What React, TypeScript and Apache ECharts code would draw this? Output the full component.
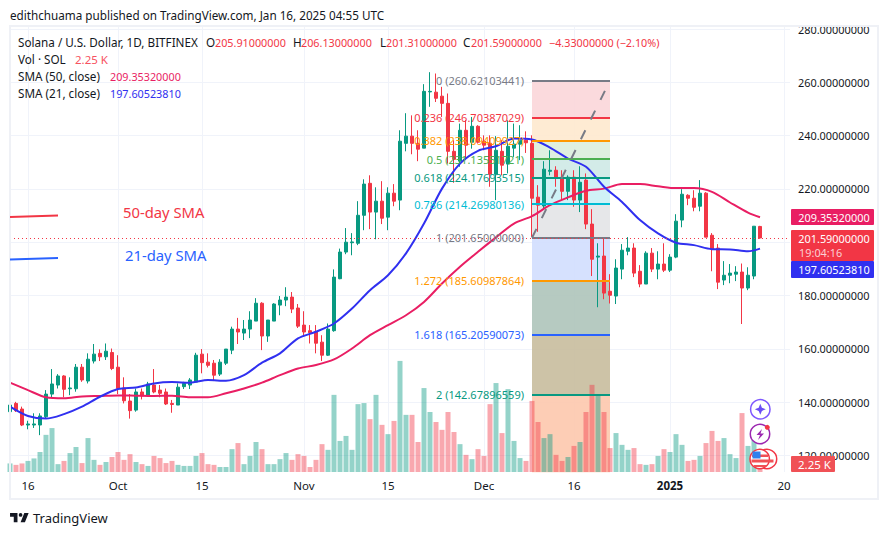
import React, { useEffect, useRef } from "react";
import * as echarts from "echarts";

const FONT = '"Noto Sans", sans-serif';
const UP = "#089981";
const DOWN = "#F23645";

const opens = [
  136.4,139.5,137.4,131.4,131.4,131.4,134.5,143.0,146.4,149.8,
  145.0,145.0,153.1,147.9,155.4,158.3,157.0,158.6,153.1,145.3,
  140.4,137.0,143.8,142.5,146.4,144.5,143.8,139.5,138.9,145.8,
  146.4,147.5,158.0,155.0,154.6,150.5,154.6,159.5,167.4,165.9,
  167.4,170.4,177.1,164.8,170.4,176.4,178.3,179.4,175.3,168.9,
  166.8,166.4,162.5,157.6,166.8,186.3,196.3,199.8,199.6,210.1,
  222.1,211.3,215.4,209.4,218.4,215.8,237.1,239.8,237.1,235.3,
  256.4,256.3,254.8,252.1,234.1,230.4,242.0,237.5,243.5,237.9,
  237.1,225.5,234.1,229.3,235.3,236.8,238.3,237.1,216.9,213.6,
  226.6,227.0,224.4,219.1,224.4,215.8,223.3,206.8,194.4,194.8,
  181.6,179.8,189.9,196.6,197.8,189.1,184.3,195.9,189.9,191.8,
  189.5,194.4,208.3,217.6,216.5,213.5,218.4,202.6,197.8,185.8,
  187.6,188.0,188.8,182.8,187.3,205.91,
];
const closes = [
  138.9,136.8,131.4,131.8,131.8,134.8,143.0,146.8,149.8,144.8,
  145.3,153.1,148.3,156.1,158.0,157.0,159.1,152.6,145.1,140.5,
  136.8,143.8,142.3,146.8,143.8,143.3,139.3,139.1,145.6,147.0,
  148.3,157.6,154.8,153.8,150.1,155.0,159.9,167.4,166.3,167.4,
  170.8,177.1,164.8,170.8,176.8,178.3,179.4,174.9,168.5,166.3,
  166.0,162.1,157.6,167.4,186.9,196.3,200.0,200.1,210.1,221.8,
  211.3,215.4,209.0,218.4,215.4,237.9,239.8,237.1,234.9,256.6,
  256.6,254.0,252.1,234.1,231.1,242.0,236.4,243.5,237.5,236.4,
  225.5,234.5,228.9,236.0,236.8,238.3,237.3,216.5,213.9,227.4,
  227.0,224.0,219.1,224.4,215.8,222.5,206.8,193.6,194.8,180.9,
  180.1,190.3,197.0,197.8,188.4,184.3,195.9,189.9,191.8,189.5,
  194.4,207.9,218.0,216.5,213.1,218.4,201.9,197.4,185.0,187.6,
  188.4,188.8,182.8,187.6,206.0,201.59,
];
const lows = [
  132.0,136.3,131.0,129.8,130.3,127.6,133.9,141.8,145.1,141.8,
  142.6,143.9,147.6,147.0,154.5,155.4,155.8,152.0,143.0,139.5,
  133.8,136.4,141.0,142.0,143.3,141.8,138.9,136.0,138.9,144.9,
  144.9,147.5,150.8,153.0,147.9,149.8,153.9,158.0,161.8,163.3,
  164.0,170.4,159.5,162.6,170.4,172.6,176.0,173.4,167.8,164.5,
  162.0,158.3,155.4,157.3,166.4,186.1,195.5,195.1,198.9,204.5,
  204.9,201.1,206.8,204.5,213.5,212.0,234.1,233.0,230.4,235.3,
  250.8,252.6,247.0,229.5,222.3,228.3,230.8,235.1,237.0,234.5,
  220.8,215.8,225.1,225.8,232.0,230.8,233.5,202.0,203.9,212.6,
  225.1,220.8,215.8,215.8,213.3,211.3,204.9,187.3,175.6,178.6,
  177.0,176.8,186.1,195.1,186.9,183.1,184.3,188.8,186.1,188.8,
  188.8,194.0,205.6,213.9,211.6,211.6,201.9,189.1,182.4,183.9,
  184.6,185.4,169.3,182.0,186.1,201.31,
];
const highs = [
  140.1,140.1,138.3,133.0,135.8,135.8,144.5,152.4,150.5,150.1,
  149.3,154.3,154.3,158.3,161.8,159.8,162.0,160.1,157.6,149.3,
  143.0,145.1,145.1,147.6,152.4,146.4,145.1,140.8,147.0,147.6,
  149.0,158.5,159.9,158.3,155.8,156.1,159.9,168.3,171.6,170.8,
  174.1,179.0,177.5,170.8,177.1,179.8,183.1,181.3,176.8,174.1,
  168.9,168.9,165.1,169.5,189.8,197.6,205.3,203.4,215.4,223.6,
  225.1,220.6,222.9,220.6,221.8,242.0,248.4,247.6,242.0,259.3,
  263.8,263.3,258.3,255.8,238.3,244.5,245.8,247.0,243.9,240.1,
  240.1,239.8,238.3,245.8,244.5,243.9,241.6,240.1,221.4,230.4,
  234.5,228.5,227.0,225.1,227.0,228.5,225.8,212.4,199.6,201.5,
  188.0,193.6,199.3,201.9,199.6,191.4,196.6,197.8,196.6,199.6,
  195.5,210.5,219.9,218.0,219.5,223.3,218.8,203.4,199.3,192.9,
  191.8,191.0,192.0,190.6,206.0,206.13,
];
const volumesK = [
  2.4,2.0,2.4,3.1,3.8,5.6,10.4,12.3,2.2,3.1,
  5.3,7.0,2.5,9.5,3.4,2.0,2.8,4.2,5.6,3.4,
  5.0,2.8,2.2,1.7,4.5,3.9,2.5,3.1,2.0,1.7,
  1.7,4.5,5.3,2.2,2.0,1.4,1.4,6.4,8.1,2.2,
  4.5,8.4,6.4,2.2,2.2,3.6,5.3,3.4,5.0,4.5,
  1.4,3.4,7.8,6.2,21.6,8.7,10.1,6.2,19.0,19.3,
  14.8,21.6,13.2,10.6,14.3,31.1,16.0,16.0,8.4,23.5,
  16.8,14.0,11.8,16.8,11.2,7.8,4.8,3.6,6.4,4.5,
  19.0,24.9,10.9,23.2,8.7,3.9,3.1,19.9,14.0,9.5,
  10.6,4.8,3.1,4.2,7.3,8.4,16.8,24.4,21.8,16.8,
  6.7,10.9,7.6,6.2,6.7,2.2,2.0,2.2,4.5,6.4,
  5.6,10.6,7.6,3.1,3.4,4.5,8.1,11.5,8.7,9.5,
  5.0,3.9,16.5,7.3,9.0,2.25,
];
// Readings of the moving averages, one every third session, then the last session.
const smaSessions = [
  0,3,6,9,12,15,18,21,24,27,30,33,36,39,42,45,48,51,54,57,60,
  63,66,69,72,75,78,81,84,87,90,93,96,99,102,105,108,111,114,117,120,123,125,
];
const sma21 = [
  138.3,134.8,133.8,135.5,138.3,142.0,144.9,145.5,147.0,147.5,147.3,
  148.3,148.0,150.1,154.8,158.3,163.9,166.4,169.5,175.1,182.0,
  187.6,195.8,207.0,220.1,229.5,234.3,236.0,238.9,238.5,235.5,
  231.4,228.3,220.8,215.1,208.3,203.3,199.8,198.9,197.4,197.3,196.6,197.6,
];
const sma50 = [
  147.3,144.5,141.8,141.4,142.1,142.3,142.5,142.4,142.3,142.4,
  141.8,141.8,143.3,145.1,147.3,150.1,152.6,153.9,156.0,160.1,165.1,
  168.9,172.6,177.6,184.5,190.8,196.4,201.8,207.0,209.8,213.9,
  216.8,219.3,220.1,221.8,221.8,221.0,220.3,220.3,218.9,214.9,211.1,209.35,
];

const fibRatios = ["0","0.236","0.382","0.5","0.618","0.786","1","1.272","1.618","2"];
const fibPrices = [
  260.62103441,246.70387029,238.09409927,231.13551721,224.17693515,
  214.26980136,201.65,185.60987864,165.20590073,142.67896559,
];
const fibColors = ["#787B86","#F23645","#FF9800","#4CAF50","#089981","#00BCD4","#787B86","#FF9800","#2962FF","#089981"];
const fibFills = ["#FBD7DA","#FEE9CF","#DCEFDD","#CFE9E6","#CCF1F5","#E4E5E7","#D2DEFE","#B0C5BC","#C9BEA0","#FDC9AF"];
const fibBottom = 113.66;

const lastClose = 201.59;
const priceTicks = { min: 100, max: 280, interval: 20 };
const hiddenPriceLabels = [100, 200]; // 200 sits behind the last-price tag
const volumeMaxK = 32;

const tickLabels: Record<string, string> = {
  "2024-09-16": "16",
  "2024-10-01": "Oct",
  "2024-10-15": "15",
  "2024-11-01": "Nov",
  "2024-11-15": "15",
  "2024-12-01": "Dec",
  "2024-12-16": "16",
  "2025-01-01": "{b|2025}",
  "2025-01-20": "20",
};

const dates: string[] = [];
for (let i = 0; i < 131; i++) {
  dates.push(new Date(Date.UTC(2024, 8, 13 + i)).toISOString().slice(0, 10));
}
const fibStart = "2024-12-09";
const fibEnd = "2024-12-22";

const GRID_LEFT = 10;
const GRID_WIDTH = 780;
const GRID_COLOR = "#F0F3FA";
const INK = "#131722";
const TXT = 11.7;
const NUM = 10.8;

const LOGO_D =
  "M14 6H2v6h6v9h6V6zm12 15h-7l6-15h7l-6 15zm-7-9a3 3 0 1 0 0-6 3 3 0 0 0 0 6z";
echarts.graphic.registerShape("tvLogoPath", echarts.graphic.extendPath(LOGO_D, {}) as any);

const text = (t: string, x: number, y: number, fill: string, size = TXT, weight = "normal", align = "left") => ({
  type: "text",
  x,
  y,
  z: 20,
  silent: true,
  style: { text: t, fill, font: `${weight} ${size}px ${FONT}`, align, verticalAlign: "middle" },
});

const tag = (x: number, y: number, w: number, h: number, fill: string) => ({
  type: "rect",
  z: 19,
  silent: true,
  shape: { x, y, width: w, height: h, r: 1 },
  style: { fill },
});

export default function App() {
  const ref = useRef<HTMLDivElement>(null);

  useEffect(() => {
    if (!ref.current) return;
    const chart = echarts.init(ref.current, undefined, { renderer: "svg" });

    const smaData = (vals: number[]) => vals.map((v, i) => [smaSessions[i], v]);
    const hiddenX = (gridIndex: number) => ({
      type: "category",
      gridIndex,
      data: dates,
      boundaryGap: false,
      show: false,
    });

    const zones = fibFills.map((fill, i) => [
      { xAxis: fibStart, yAxis: fibPrices[i], itemStyle: { color: fill, opacity: 0.92 } },
      { xAxis: fibEnd, yAxis: i + 1 < fibPrices.length ? fibPrices[i + 1] : fibBottom },
    ]);
    const fibLines = fibRatios.map((r, i) => [
      {
        xAxis: fibStart,
        yAxis: fibPrices[i],
        lineStyle: { color: fibColors[i], width: 2, type: "solid" },
        label: {
          show: true,
          position: "start",
          distance: 8,
          align: "right",
          verticalAlign: "middle",
          color: fibColors[i],
          fontFamily: FONT,
          fontSize: 11,
          formatter: `${r} (${fibPrices[i].toFixed(8)})`,
        },
      },
      { xAxis: fibEnd, yAxis: fibPrices[i] },
    ]);

    chart.setOption({
      animation: false,
      backgroundColor: "#ffffff",
      textStyle: { fontFamily: FONT },
      grid: [
        { left: GRID_LEFT, width: GRID_WIDTH, top: 26, height: 446 },
        { left: GRID_LEFT, width: GRID_WIDTH, top: 29, height: 479.7 },
        { left: GRID_LEFT, width: GRID_WIDTH, top: 357.7, height: 114.3 },
      ],
      xAxis: [
        {
          type: "category",
          gridIndex: 0,
          data: dates,
          boundaryGap: false,
          axisLine: { show: false },
          axisTick: { show: false },
          splitLine: {
            show: true,
            interval: (_: number, v: string) => v in tickLabels,
            lineStyle: { color: GRID_COLOR, width: 1 },
          },
          axisLabel: {
            interval: (_: number, v: string) => v in tickLabels,
            formatter: (v: string) => tickLabels[v] ?? "",
            color: INK,
            fontFamily: FONT,
            fontSize: 11.5,
            margin: 7,
            rich: { b: { fontWeight: "bold", fontFamily: FONT, fontSize: 11.5, color: INK } },
          },
        },
        hiddenX(1),
        hiddenX(2),
      ],
      yAxis: [
        { type: "value", gridIndex: 0, show: false, min: 0, max: 1 },
        {
          type: "value",
          gridIndex: 1,
          position: "right",
          min: priceTicks.min,
          max: priceTicks.max,
          interval: priceTicks.interval,
          axisLine: { show: false },
          axisTick: { show: false },
          splitLine: { show: true, showMinLine: false, lineStyle: { color: GRID_COLOR, width: 1 } },
          axisLabel: {
            showMinLabel: false,
            margin: 8,
            color: INK,
            fontFamily: FONT,
            fontSize: 10.9,
            formatter: (v: number) => (hiddenPriceLabels.includes(v) ? "" : v.toFixed(8)),
          },
        },
        { type: "value", gridIndex: 2, show: false, min: 0, max: volumeMaxK },
      ],
      series: [
        {
          type: "line",
          name: "Fib",
          xAxisIndex: 1,
          yAxisIndex: 1,
          data: [],
          z: 1,
          silent: true,
          markArea: { silent: true, data: zones },
          markLine: {
            silent: true,
            symbol: "none",
            data: [
              ...fibLines,
              [
                { xAxis: fibStart, yAxis: fibPrices[6], label: { show: false }, lineStyle: { color: "#787B86", width: 2, type: [10, 12] } },
                { xAxis: fibEnd, yAxis: fibPrices[0] },
              ],
            ],
          },
        },
        {
          type: "line",
          name: "Last",
          xAxisIndex: 1,
          yAxisIndex: 1,
          data: [],
          z: 1,
          silent: true,
          markLine: {
            silent: true,
            symbol: "none",
            label: { show: false },
            lineStyle: { color: DOWN, width: 1, type: [1, 3] },
            data: [{ yAxis: lastClose }],
          },
        },
        {
          type: "bar",
          name: "Vol",
          xAxisIndex: 2,
          yAxisIndex: 2,
          barWidth: 5,
          z: 2,
          silent: true,
          data: volumesK.map((v, i) => ({
            value: v,
            itemStyle: { color: closes[i] >= opens[i] ? "rgba(8,153,129,0.43)" : "rgba(242,54,69,0.43)" },
          })),
        },
        {
          type: "candlestick",
          name: "SOLUSD",
          xAxisIndex: 1,
          yAxisIndex: 1,
          barWidth: 4,
          z: 3,
          silent: true,
          itemStyle: { color: UP, color0: DOWN, borderColor: UP, borderColor0: DOWN, borderWidth: 1 },
          data: opens.map((o, i) => [o, closes[i], lows[i], highs[i]]),
        },
        {
          type: "line",
          name: "SMA 50",
          xAxisIndex: 1,
          yAxisIndex: 1,
          z: 4,
          silent: true,
          showSymbol: false,
          smooth: 0.3,
          lineStyle: { color: "#E91E63", width: 2 },
          data: smaData(sma50),
        },
        {
          type: "line",
          name: "SMA 21",
          xAxisIndex: 1,
          yAxisIndex: 1,
          z: 4,
          silent: true,
          showSymbol: false,
          smooth: 0.3,
          lineStyle: { color: "#3030F0", width: 2 },
          data: smaData(sma21),
        },
      ],
      graphic: [
        { type: "rect", z: 18, silent: true, shape: { x: 10, y: 26, width: 868, height: 473 }, style: { fill: "none", stroke: "#EFF1F6", lineWidth: 2 } },
        text("edithchuama published on TradingView.com, Jan 16, 2025 04:55 UTC", 10, 15, INK),
        text("Solana / U.S. Dollar, 1D, BITFINEX", 18, 42, INK),
        text("O", 206, 42, INK),
        text("205.91000000", 215, 42, DOWN, NUM),
        text("H", 293, 42, INK),
        text("206.13000000", 301, 42, DOWN, NUM),
        text("L", 380, 42, INK),
        text("201.31000000", 386, 42, DOWN, NUM),
        text("C", 463, 42, INK),
        text("201.59000000", 471, 42, DOWN, NUM),
        text("−4.33000000 (−2.10%)", 549, 42, DOWN, NUM),
        text("Vol · SOL", 18, 59, INK),
        text("2.25 K", 75, 59, "#F7525F", NUM + 0.7),
        text("SMA (50, close)", 18, 76, INK),
        text("209.35320000", 110, 76, "#E91E63", NUM),
        text("SMA (21, close)", 18, 93, INK),
        text("197.60523810", 110, 93, "#3030F0", NUM),
        { type: "line", z: 18, silent: true, shape: { x1: 10, y1: 217, x2: 58, y2: 215.5 }, style: { stroke: DOWN, lineWidth: 2 } },
        text("50-day SMA", 123, 212, DOWN, 14.8),
        { type: "line", z: 18, silent: true, shape: { x1: 10, y1: 259.5, x2: 58, y2: 258 }, style: { stroke: "#2962FF", lineWidth: 2 } },
        text("21-day SMA", 125, 255, "#2962FF", 14.8),
        tag(791, 209, 83, 16, "#E91E63"),
        text("209.35320000", 834, 217.5, "#ffffff", 10.9, "normal", "center"),
        tag(791, 230, 83, 31, DOWN),
        text("201.59000000", 834, 238, "#ffffff", 10.9, "normal", "center"),
        text("19:04:16", 799, 252.5, "#FBD0D4", 10.9),
        tag(791, 261, 83, 17, "#3030F0"),
        text("197.60523810", 834, 269.5, "#ffffff", 10.9, "normal", "center"),
        tag(791, 456, 44, 16, "#F05156"),
        text("2.25 K", 814.5, 464.5, "#ffffff", 11.5, "normal", "center"),
        { type: "circle", z: 25, silent: true, shape: { cx: 760.3, cy: 409.3, r: 9.7 }, style: { fill: "#fff", stroke: "#7E57FF", lineWidth: 1.5 } },
        { type: "polygon", z: 26, silent: true, shape: { points: [[760.3, 403.8], [761.9, 407.7], [765.8, 409.3], [761.9, 410.9], [760.3, 414.8], [758.7, 410.9], [754.8, 409.3], [758.7, 407.7]] }, style: { fill: "#6A4DF5" } },
        { type: "circle", z: 25, silent: true, shape: { cx: 760, cy: 434, r: 9.7 }, style: { fill: "#fff", stroke: "#9C27B0", lineWidth: 1.5 } },
        { type: "polygon", z: 26, silent: true, shape: { points: [[762, 429], [756.5, 435], [760, 435], [758, 440], [764, 433.5], [760.5, 433.5]] }, style: { fill: "#9C27B0" } },
        { type: "circle", z: 27, silent: true, shape: { cx: 767.3, cy: 427.3, r: 2.5 }, style: { fill: DOWN } },
        { type: "circle", z: 24, silent: true, shape: { cx: 767, cy: 459, r: 9.7 }, style: { fill: "#fff", stroke: DOWN, lineWidth: 1.5 } },
        { type: "circle", z: 25, silent: true, shape: { cx: 759.7, cy: 459, r: 9.7 }, style: { fill: "#fff", stroke: DOWN, lineWidth: 1.5 } },
        { type: "rect", z: 26, silent: true, shape: { x: 752, y: 454.5, width: 16, height: 2.5 }, style: { fill: "#F05156" } },
        { type: "rect", z: 26, silent: true, shape: { x: 751.5, y: 459.5, width: 22, height: 3 }, style: { fill: "#F05156" } },
        { type: "rect", z: 26, silent: true, shape: { x: 754, y: 465, width: 12, height: 2 }, style: { fill: "#F05156" } },
        { type: "rect", z: 27, silent: true, shape: { x: 752.5, y: 451.5, width: 8, height: 7 }, style: { fill: "#2F80ED" } },
        { type: "tvLogoPath", x: 8.8, y: 509.3, scaleX: 0.62, scaleY: 0.62, z: 20, silent: true, style: { fill: INK } },
        text("TradingView", 33, 517.5, INK, 13),
      ],
    } as any);

    return () => chart.dispose();
  }, []);

  return (
    <div
      ref={ref}
      style={{ position: "absolute", left: 0, top: 0, width: 888, height: 535, background: "#fff" }}
    />
  );
}
